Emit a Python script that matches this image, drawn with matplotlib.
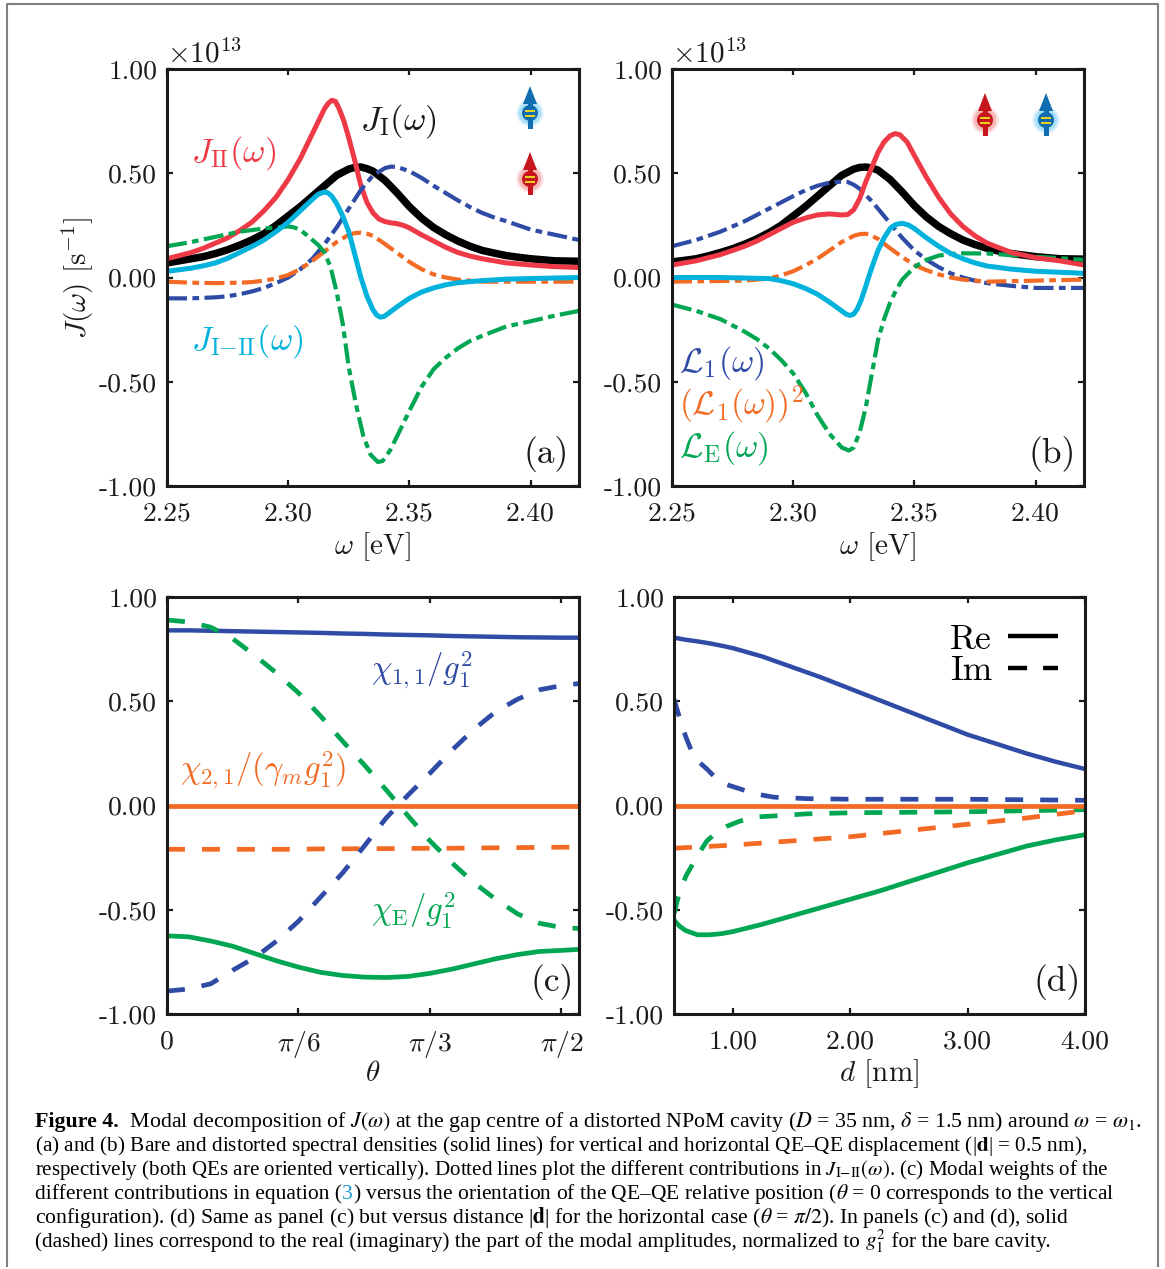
import matplotlib
matplotlib.use('Agg')
import matplotlib.pyplot as plt
from matplotlib.lines import Line2D
from matplotlib.patches import Circle, Polygon, Rectangle
from matplotlib.transforms import Affine2D

W, H = 1165, 1269

plt.rcParams['font.family'] = ['cmr10', 'DejaVu Sans']
plt.rcParams['mathtext.fontset'] = 'cm'
plt.rcParams['axes.formatter.use_mathtext'] = True

BLACK = '#000000'
RED = '#ee3a46'
CYAN = '#00b2dc'
BLUE = '#2f4ba6'
ORANGE = '#f26a24'
GREEN = '#00a651'
INK = '#1a1a1a'

# panel (a)
a_black_x = [2.25, 2.255, 2.26, 2.265, 2.27, 2.275, 2.28, 2.285, 2.29, 2.295, 2.30, 2.305, 2.31, 2.315, 2.32, 2.325, 2.3275, 2.33, 2.3325, 2.335, 2.34, 2.345, 2.35, 2.355, 2.36, 2.365, 2.37, 2.375, 2.38, 2.385, 2.39, 2.395, 2.40, 2.41, 2.42]
a_black_y = [0.07, 0.08, 0.09, 0.10, 0.115, 0.133, 0.155, 0.18, 0.21, 0.25, 0.295, 0.34, 0.39, 0.44, 0.49, 0.52, 0.528, 0.53, 0.522, 0.51, 0.465, 0.405, 0.34, 0.285, 0.24, 0.205, 0.175, 0.15, 0.13, 0.117, 0.105, 0.097, 0.09, 0.08, 0.078]
a_red_x = [2.25, 2.255, 2.26, 2.265, 2.27, 2.275, 2.28, 2.285, 2.29, 2.295, 2.30, 2.305, 2.31, 2.3125, 2.315, 2.3165, 2.318, 2.3195, 2.321, 2.323, 2.325, 2.3275, 2.33, 2.3325, 2.335, 2.3375, 2.34, 2.3425, 2.345, 2.3475, 2.35, 2.355, 2.36, 2.365, 2.37, 2.375, 2.38, 2.39, 2.40, 2.41, 2.42]
a_red_y = [0.09, 0.105, 0.12, 0.14, 0.165, 0.19, 0.225, 0.265, 0.32, 0.385, 0.47, 0.57, 0.69, 0.75, 0.81, 0.835, 0.85, 0.845, 0.81, 0.75, 0.67, 0.56, 0.44, 0.36, 0.31, 0.28, 0.268, 0.262, 0.258, 0.25, 0.238, 0.205, 0.175, 0.145, 0.12, 0.103, 0.09, 0.07, 0.06, 0.052, 0.048]
a_cyan_x = [2.25, 2.255, 2.26, 2.265, 2.27, 2.275, 2.28, 2.285, 2.29, 2.295, 2.30, 2.305, 2.31, 2.3125, 2.315, 2.3165, 2.318, 2.32, 2.3225, 2.325, 2.3275, 2.33, 2.3325, 2.335, 2.3365, 2.338, 2.3395, 2.341, 2.345, 2.35, 2.355, 2.36, 2.365, 2.37, 2.38, 2.39, 2.40, 2.42]
a_cyan_y = [0.03, 0.037, 0.045, 0.056, 0.07, 0.092, 0.12, 0.148, 0.18, 0.22, 0.265, 0.32, 0.375, 0.40, 0.41, 0.405, 0.39, 0.355, 0.295, 0.22, 0.11, 0.0, -0.09, -0.155, -0.18, -0.19, -0.187, -0.175, -0.14, -0.10, -0.07, -0.05, -0.035, -0.025, -0.015, -0.008, -0.005, 0.0]
a_blue_x = [2.25, 2.26, 2.27, 2.275, 2.28, 2.285, 2.29, 2.295, 2.30, 2.305, 2.31, 2.315, 2.32, 2.325, 2.33, 2.335, 2.34, 2.3425, 2.345, 2.35, 2.355, 2.36, 2.365, 2.37, 2.375, 2.38, 2.385, 2.39, 2.40, 2.41, 2.42]
a_blue_y = [-0.10, -0.10, -0.095, -0.09, -0.08, -0.067, -0.05, -0.027, 0.0, 0.04, 0.09, 0.16, 0.24, 0.33, 0.42, 0.49, 0.525, 0.532, 0.53, 0.51, 0.478, 0.44, 0.405, 0.37, 0.338, 0.31, 0.288, 0.27, 0.23, 0.205, 0.18]
a_orange_x = [2.25, 2.26, 2.27, 2.28, 2.285, 2.29, 2.295, 2.30, 2.305, 2.31, 2.315, 2.32, 2.325, 2.3275, 2.33, 2.3325, 2.335, 2.34, 2.345, 2.35, 2.355, 2.36, 2.365, 2.37, 2.38, 2.40, 2.42]
a_orange_y = [-0.02, -0.025, -0.027, -0.025, -0.022, -0.015, -0.005, 0.012, 0.04, 0.08, 0.125, 0.17, 0.205, 0.213, 0.215, 0.21, 0.20, 0.16, 0.118, 0.075, 0.04, 0.015, 0.0, -0.01, -0.02, -0.02, -0.02]
a_green_x = [2.25, 2.26, 2.27, 2.28, 2.29, 2.295, 2.30, 2.3025, 2.305, 2.3075, 2.31, 2.3125, 2.315, 2.3175, 2.32, 2.3225, 2.325, 2.328, 2.331, 2.334, 2.337, 2.339, 2.342, 2.345, 2.35, 2.355, 2.36, 2.365, 2.37, 2.375, 2.38, 2.39, 2.40, 2.41, 2.42]
a_green_y = [0.15, 0.17, 0.195, 0.22, 0.235, 0.24, 0.245, 0.24, 0.228, 0.205, 0.18, 0.155, 0.12, 0.05, -0.07, -0.22, -0.43, -0.61, -0.76, -0.85, -0.885, -0.88, -0.83, -0.76, -0.64, -0.525, -0.44, -0.385, -0.34, -0.305, -0.28, -0.235, -0.21, -0.183, -0.16]

# panel (b)
b_black_x = [2.25, 2.255, 2.26, 2.265, 2.27, 2.275, 2.28, 2.285, 2.29, 2.295, 2.30, 2.305, 2.31, 2.315, 2.32, 2.325, 2.3275, 2.33, 2.3325, 2.335, 2.34, 2.345, 2.35, 2.355, 2.36, 2.365, 2.37, 2.375, 2.38, 2.385, 2.39, 2.40, 2.41, 2.42]
b_black_y = [0.075, 0.082, 0.09, 0.104, 0.12, 0.138, 0.16, 0.185, 0.215, 0.25, 0.295, 0.34, 0.39, 0.44, 0.49, 0.52, 0.528, 0.53, 0.525, 0.515, 0.47, 0.41, 0.345, 0.29, 0.245, 0.21, 0.18, 0.158, 0.14, 0.126, 0.115, 0.10, 0.09, 0.088]
b_red_x = [2.25, 2.26, 2.27, 2.28, 2.285, 2.29, 2.295, 2.30, 2.305, 2.31, 2.315, 2.32, 2.3225, 2.325, 2.3275, 2.33, 2.3325, 2.335, 2.3375, 2.34, 2.342, 2.344, 2.347, 2.35, 2.355, 2.36, 2.365, 2.37, 2.375, 2.38, 2.39, 2.40, 2.41, 2.42]
b_red_y = [0.06, 0.08, 0.11, 0.15, 0.175, 0.205, 0.235, 0.265, 0.285, 0.30, 0.305, 0.30, 0.302, 0.325, 0.38, 0.46, 0.53, 0.60, 0.65, 0.68, 0.69, 0.685, 0.65, 0.585, 0.48, 0.385, 0.305, 0.245, 0.20, 0.165, 0.12, 0.095, 0.08, 0.06]
b_cyan_x = [2.25, 2.27, 2.29, 2.295, 2.30, 2.305, 2.31, 2.315, 2.32, 2.322, 2.3235, 2.325, 2.3265, 2.328, 2.33, 2.3325, 2.335, 2.3375, 2.34, 2.3425, 2.345, 2.3475, 2.35, 2.355, 2.36, 2.365, 2.37, 2.375, 2.38, 2.39, 2.40, 2.42]
b_cyan_y = [0.0, 0.0, -0.005, -0.015, -0.03, -0.052, -0.08, -0.118, -0.16, -0.177, -0.182, -0.175, -0.15, -0.11, -0.04, 0.05, 0.13, 0.19, 0.235, 0.255, 0.26, 0.252, 0.235, 0.19, 0.15, 0.115, 0.09, 0.07, 0.055, 0.04, 0.03, 0.02]
b_blue_x = [2.25, 2.26, 2.27, 2.28, 2.285, 2.29, 2.295, 2.30, 2.305, 2.31, 2.315, 2.32, 2.3225, 2.325, 2.3275, 2.33, 2.3325, 2.335, 2.34, 2.345, 2.35, 2.355, 2.36, 2.365, 2.37, 2.375, 2.38, 2.39, 2.40, 2.42]
b_blue_y = [0.15, 0.18, 0.22, 0.27, 0.30, 0.33, 0.36, 0.39, 0.418, 0.44, 0.455, 0.46, 0.458, 0.445, 0.425, 0.395, 0.365, 0.33, 0.26, 0.19, 0.13, 0.085, 0.05, 0.02, 0.0, -0.015, -0.027, -0.04, -0.05, -0.05]
b_orange_x = [2.25, 2.28, 2.29, 2.295, 2.30, 2.305, 2.31, 2.315, 2.32, 2.325, 2.3275, 2.33, 2.3325, 2.335, 2.34, 2.345, 2.35, 2.355, 2.36, 2.365, 2.37, 2.38, 2.40, 2.42]
b_orange_y = [-0.02, -0.015, -0.005, 0.01, 0.03, 0.058, 0.09, 0.13, 0.17, 0.20, 0.208, 0.21, 0.20, 0.185, 0.14, 0.098, 0.06, 0.035, 0.015, 0.0, -0.01, -0.02, -0.015, -0.01]
b_green_x = [2.25, 2.26, 2.27, 2.28, 2.285, 2.29, 2.295, 2.30, 2.305, 2.31, 2.315, 2.32, 2.323, 2.325, 2.3275, 2.33, 2.3325, 2.335, 2.3375, 2.34, 2.3425, 2.345, 2.35, 2.355, 2.36, 2.365, 2.37, 2.38, 2.40, 2.42]
b_green_y = [-0.13, -0.16, -0.20, -0.26, -0.295, -0.34, -0.395, -0.46, -0.55, -0.66, -0.75, -0.815, -0.83, -0.815, -0.74, -0.62, -0.46, -0.30, -0.20, -0.12, -0.06, -0.01, 0.05, 0.085, 0.105, 0.113, 0.116, 0.115, 0.10, 0.085]

# panel (c), theta in degrees
c_theta = [0, 5, 10, 15, 20, 25, 30, 35, 40, 45, 50, 55, 60, 65, 70, 75, 80, 85, 90, 94]
c_blue_re = [0.84, 0.84, 0.838, 0.836, 0.834, 0.832, 0.83, 0.828, 0.825, 0.823, 0.82, 0.818, 0.816, 0.813, 0.811, 0.809, 0.807, 0.806, 0.805, 0.805]
c_blue_im = [-0.89, -0.88, -0.855, -0.79, -0.73, -0.65, -0.555, -0.44, -0.325, -0.195, -0.06, 0.05, 0.155, 0.265, 0.365, 0.45, 0.51, 0.555, 0.575, 0.585]
c_green_re = [-0.625, -0.63, -0.65, -0.675, -0.71, -0.745, -0.775, -0.80, -0.815, -0.823, -0.825, -0.82, -0.805, -0.785, -0.76, -0.735, -0.715, -0.70, -0.695, -0.69]
c_green_im = [0.89, 0.88, 0.855, 0.80, 0.72, 0.635, 0.54, 0.43, 0.31, 0.195, 0.075, -0.05, -0.17, -0.275, -0.37, -0.45, -0.52, -0.565, -0.585, -0.59]
c_orange_re = [0, 0, 0, 0, 0, 0, 0, 0, 0, 0, 0, 0, 0, 0, 0, 0, 0, 0, 0, 0]
c_orange_im = [-0.21, -0.21, -0.21, -0.21, -0.21, -0.21, -0.21, -0.208, -0.208, -0.207, -0.207, -0.206, -0.205, -0.205, -0.204, -0.203, -0.202, -0.201, -0.20, -0.20]

# panel (d)
d_re_x = [0.5, 0.55, 0.6, 0.7, 0.8, 0.9, 1.0, 1.25, 1.5, 1.75, 2.0, 2.25, 2.5, 2.75, 3.0, 3.25, 3.5, 3.75, 4.0]
d_blue_re = [0.805, 0.80, 0.795, 0.787, 0.778, 0.767, 0.755, 0.715, 0.665, 0.615, 0.56, 0.505, 0.45, 0.395, 0.34, 0.295, 0.25, 0.21, 0.175]
d_green_re = [-0.55, -0.58, -0.60, -0.62, -0.62, -0.615, -0.605, -0.57, -0.53, -0.49, -0.45, -0.41, -0.365, -0.32, -0.275, -0.235, -0.195, -0.165, -0.14]
d_orange_re = [0, 0, 0, 0, 0, 0, 0, 0, 0, 0, 0, 0, 0, 0, 0, 0, 0, 0, 0]
d_im_x = [0.5, 0.54, 0.6, 0.65, 0.7, 0.78, 0.85, 0.95, 1.06, 1.2, 1.35, 1.63, 2.0, 3.0, 4.0]
d_blue_im = [0.51, 0.435, 0.33, 0.26, 0.215, 0.175, 0.135, 0.10, 0.08, 0.055, 0.04, 0.033, 0.03, 0.03, 0.025]
d_green_im = [-0.52, -0.43, -0.34, -0.29, -0.24, -0.17, -0.135, -0.10, -0.075, -0.055, -0.05, -0.04, -0.035, -0.03, -0.02]
d_orange_x = [0.5, 1.0, 1.5, 2.0, 2.5, 3.0, 3.5, 4.0]
d_orange_im = [-0.205, -0.19, -0.17, -0.15, -0.12, -0.09, -0.06, -0.025]

y_ticks = [-1.0, -0.5, 0.0, 0.5, 1.0]
y_ticklabels = ['-1.00', '-0.50', '0.00', '0.50', '1.00']
omega_ticks = [2.25, 2.30, 2.35, 2.40]
omega_ticklabels = ['2.25', '2.30', '2.35', '2.40']
theta_ticks = [0, 30, 60, 90]
theta_ticklabels = ['0', r'$\pi/6$', r'$\pi/3$', r'$\pi/2$']
d_ticks = [1.0, 2.0, 3.0, 4.0]
d_ticklabels = ['1.00', '2.00', '3.00', '4.00']

caption = [
    [('Figure 4.', '#000000', 'bold'),
     (r'  Modal decomposition of $J(\omega)$ at the gap centre of a distorted NPoM cavity ($D$ = 35 nm, $\delta$ = 1.5 nm) around $\omega$ = $\omega_1$.', '#000000', 'normal')],
    [(r'(a) and (b) Bare and distorted spectral densities (solid lines) for vertical and horizontal QE–QE displacement (|$\mathbf{d}$| = 0.5 nm),', '#000000', 'normal')],
    [(r'respectively (both QEs are oriented vertically). Dotted lines plot the different contributions in $J_{\mathrm{I{-}II}}(\omega)$. (c) Modal weights of the', '#000000', 'normal')],
    [('different contributions in equation (', '#000000', 'normal'), ('3', '#1c9ad6', 'normal'),
     (r') versus the orientation of the QE–QE relative position ($\theta$ = 0 corresponds to the vertical', '#000000', 'normal')],
    [(r'configuration). (d) Same as panel (c) but versus distance |$\mathbf{d}$| for the horizontal case ($\theta$ = $\pi/2$). In panels (c) and (d), solid', '#000000', 'normal')],
    [('(dashed) lines correspond to the real (imaginary) the part of the modal amplitudes, normalized to ', '#000000', 'normal'),
     (r'$g_1^2$', '#000000', 'normal'), (' for the bare cavity.', '#000000', 'normal')],
]
caption_sizes = [15.75, 15.3, 15.15, 15.5, 15.6, 15.35]

fig = plt.figure(figsize=(W / 100, H / 100), dpi=100, facecolor='white')
px = Affine2D().scale(1, -1).translate(0, H)  # image pixels, y going down


def make_axes(left, top, right, bottom, xlim, xticks, xticklabels, xlabel, labelpad):
    ax = fig.add_axes([left / W, 1 - bottom / H, (right - left) / W, (bottom - top) / H])
    ax.set_xlim(xlim)
    ax.set_ylim(-1, 1)
    ax.set_xticks(xticks)
    ax.set_xticklabels(xticklabels)
    ax.set_yticks(y_ticks)
    ax.set_yticklabels(y_ticklabels)
    ax.tick_params(direction='in', top=True, right=True, length=4, width=1.6, labelsize=19.8, colors=INK)
    ax.tick_params(axis='x', pad=11)
    ax.tick_params(axis='y', pad=7)
    for s in ax.spines.values():
        s.set_linewidth(2.2)
        s.set_color(INK)
    ax.set_xlabel(xlabel, fontsize=21, labelpad=labelpad, color=INK)
    return ax


DASHDOT = (0, (4.8, 1.3, 1.6, 1.3))
DASH = (0, (3.8, 3.6))


def solid(ax, x, y, color, lw=3.6):
    ax.plot(x, y, color=color, lw=lw, solid_capstyle='butt', solid_joinstyle='round')


def dashed(ax, x, y, color, ls=DASH, lw=3.4):
    ax.plot(x, y, color=color, lw=lw, ls=ls, dash_capstyle='butt', dash_joinstyle='round')


def qe_icon(x, y, dark, light):
    # small emitter glyph, drawn in image pixels
    for r, a in [(14, 0.12), (12.5, 0.2), (11, 0.3)]:
        fig.add_artist(Circle((x, y), r, color=light, alpha=a, lw=0, transform=px))
    fig.add_artist(Rectangle((x - 2.5, y - 12), 5, 28, color=dark, lw=0, transform=px))
    fig.add_artist(Polygon([(x - 7, y - 9), (x, y - 27), (x + 7, y - 9)], closed=True, color=dark, lw=0, transform=px))
    fig.add_artist(Circle((x, y), 8, color=dark, lw=0, transform=px))
    for dy in (-2.5, 2.5):
        fig.add_artist(Rectangle((x - 5, y + dy - 1), 10, 2, color='#e8d21f', lw=0, transform=px))


def panel_tag(ax, s, x=0.975):
    ax.text(x, 0.055, s, transform=ax.transAxes, ha='right', fontsize=25.5, color=INK)


# (a)
ax_a = make_axes(167, 69, 579, 486, (2.25, 2.42), omega_ticks, omega_ticklabels, r'$\omega$ [eV]', 4)
solid(ax_a, a_black_x, a_black_y, BLACK, lw=5.4)
solid(ax_a, a_red_x, a_red_y, RED)
dashed(ax_a, a_blue_x, a_blue_y, BLUE, DASHDOT, 3)
dashed(ax_a, a_orange_x, a_orange_y, ORANGE, DASHDOT, 3)
dashed(ax_a, a_green_x, a_green_y, GREEN, DASHDOT, 3)
solid(ax_a, a_cyan_x, a_cyan_y, CYAN)
ax_a.set_ylabel(r'$J(\omega)$ [s$^{-1}$]', fontsize=21, labelpad=2, color=INK)
ax_a.text(0.0, 1.015, r'$\times 10^{13}$', transform=ax_a.transAxes, fontsize=21, color=INK)
ax_a.text(2.3295, 0.71, r'$J_{\mathrm{I}}(\omega)$', fontsize=24.7, color=INK)
ax_a.text(2.26, 0.555, r'$J_{\mathrm{II}}(\omega)$', fontsize=24.7, color=RED)
ax_a.text(2.26, -0.345, r'$J_{\mathrm{I{-}II}}(\omega)$', fontsize=24.7, color=CYAN)
panel_tag(ax_a, '(a)')
qe_icon(530, 113, '#0f6db0', '#55c0f0')
qe_icon(530, 179, '#c8161e', '#f07070')

# (b)
ax_b = make_axes(672, 69, 1084, 486, (2.25, 2.42), omega_ticks, omega_ticklabels, r'$\omega$ [eV]', 4)
solid(ax_b, b_black_x, b_black_y, BLACK, lw=5.4)
dashed(ax_b, b_blue_x, b_blue_y, BLUE, DASHDOT, 3)
dashed(ax_b, b_orange_x, b_orange_y, ORANGE, DASHDOT, 3)
dashed(ax_b, b_green_x, b_green_y, GREEN, DASHDOT, 3)
solid(ax_b, b_red_x, b_red_y, RED)
solid(ax_b, b_cyan_x, b_cyan_y, CYAN)
ax_b.text(0.0, 1.015, r'$\times 10^{13}$', transform=ax_b.transAxes, fontsize=21, color=INK)
ax_b.text(2.253, -0.45, r'$\mathcal{L}_1(\omega)$', fontsize=24.5, color=BLUE)
ax_b.text(2.253, -0.66, r'$(\mathcal{L}_1(\omega))^2$', fontsize=24, color=ORANGE)
ax_b.text(2.253, -0.86, r'$\mathcal{L}_{\mathrm{E}}(\omega)$', fontsize=24.5, color=GREEN)
panel_tag(ax_b, '(b)', 0.98)
qe_icon(985, 120, '#c8161e', '#f07070')
qe_icon(1046, 120, '#0f6db0', '#55c0f0')

# (c)
ax_c = make_axes(167, 597, 579, 1014, (0, 94), theta_ticks, theta_ticklabels, r'$\theta$', 0)
solid(ax_c, c_theta, c_blue_re, BLUE, 3.2)
solid(ax_c, c_theta, c_green_re, GREEN, 3.4)
solid(ax_c, c_theta, c_orange_re, ORANGE, 3.4)
dashed(ax_c, c_theta, c_orange_im, ORANGE)
dashed(ax_c, c_theta, c_blue_im, BLUE)
dashed(ax_c, c_theta, c_green_im, GREEN)
ax_c.text(46.6, 0.605, r'$\chi_{1,1}/g_1^2$', fontsize=23.5, color=BLUE)
ax_c.text(3, 0.125, r'$\chi_{2,1}/(\gamma_m g_1^2)$', fontsize=23.5, color=ORANGE)
ax_c.text(46.6, -0.55, r'$\chi_{\mathrm{E}}/g_1^2$', fontsize=23.5, color=GREEN)
panel_tag(ax_c, '(c)', 0.987)

# (d)
ax_d = make_axes(674, 597, 1085, 1014, (0.5, 4.0), d_ticks, d_ticklabels, r'$d$ [nm]', 3)
solid(ax_d, d_re_x, d_blue_re, BLUE, 3.2)
solid(ax_d, d_re_x, d_green_re, GREEN, 3.4)
dashed(ax_d, d_im_x, d_blue_im, BLUE)
dashed(ax_d, d_im_x, d_green_im, GREEN)
dashed(ax_d, d_orange_x, d_orange_im, ORANGE)
solid(ax_d, d_re_x, d_orange_re, ORANGE, 3.4)
panel_tag(ax_d, '(d)', 0.99)
handles = [Line2D([], [], color='black', lw=3.2, solid_capstyle='butt'),
           Line2D([], [], color='black', lw=3.2, ls=(0, (4.3, 3.6)), dash_capstyle='butt')]
ax_d.legend(handles, ['Re', 'Im'], loc='upper right', bbox_to_anchor=(0.995, 0.995), frameon=False, markerfirst=False,
            handlelength=1.42, handletextpad=0.45, labelspacing=0.0, borderpad=0.2, prop={'family': 'cmr10', 'size': 25.5})

# caption, one text per line, pieces placed side by side
fig.canvas.draw()
rend = fig.canvas.get_renderer()
y0 = 1127
for line, size in zip(caption, caption_sizes):
    x = 35
    for s, col, weight in line:
        t = fig.text(x, H - y0, s, transform=Affine2D(), family='Liberation Serif', fontsize=size, color=col,
                     weight=weight, va='baseline', math_fontfamily='stix')
        x = t.get_window_extent(rend).x1
    y0 += 24

# page frame
fig.add_artist(Line2D([7, 7, 1158, 1158], [1266, 4, 4, 1266], color='#808080', lw=1.5, transform=px))

fig.savefig('out.png', dpi=100, facecolor='white')
